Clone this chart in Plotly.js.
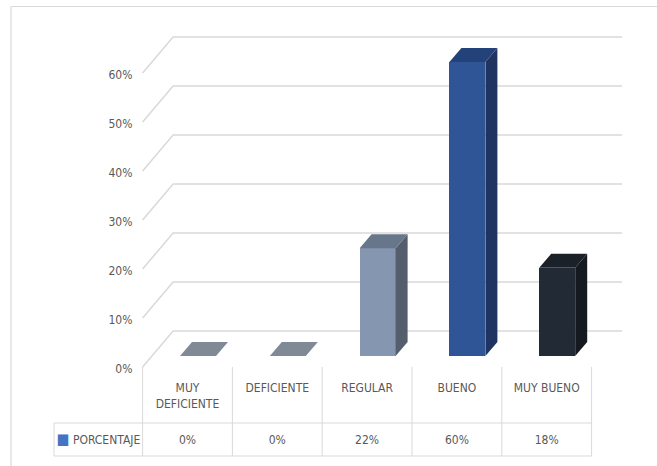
<!DOCTYPE html>
<html>
<head>
<meta charset="utf-8">
<script src="https://cdn.plot.ly/plotly-3.0.1.min.js"></script>
<style>html,body{margin:0;padding:0;background:#fff;}#chart{width:657px;height:466px;}</style>
</head>
<body>
<div id="chart"></div>
<script>
// ---- data ----
const categories = ['MUY DEFICIENTE', 'DEFICIENTE', 'REGULAR', 'BUENO', 'MUY BUENO'];
const tickLabels = ['MUY<br>DEFICIENTE', 'DEFICIENTE', 'REGULAR', 'BUENO', 'MUY BUENO'];
const porcentaje = [0, 0, 22, 60, 18];
const seriesName = 'PORCENTAJE';
const yTickLevels = [0, 10, 20, 30, 40, 50, 60];
const yTickLabels = ['0%', '10%', '20%', '30%', '40%', '50%', '60%'];

// ---- styles ----
const frontColors = ['#8a94a0', '#8a94a0', '#8496b0', '#2f5597', '#222a35'];
const topColors   = ['#808a96', '#808a96', '#67768a', '#24427a', '#1b2129'];
const sideColors  = ['#5d6670', '#5d6670', '#545e6d', '#1f3460', '#151a21'];
const legendColor = '#4472C4';
const textColor = '#595959';
const lineColor = '#d9d9d9';
const FONT = 'DejaVu Sans Condensed, Liberation Sans Narrow, sans-serif';

// ---- geometry (pixel scale helpers) ----
const W = 657, H = 466;
const M = {l: 20, r: 17, t: 20, b: 10};
const PXU = 89.8;   // px per category
const PXP = 4.9;    // px per percent
const X0 = 187.5;   // px of first column centre
const Y0 = 356;     // px of bar base
const plotH = H - M.t - M.b;
const toPaperY = py => (H - M.b - py) / plotH;
const toPaperX = px => (px - M.l) / (W - M.l - M.r);

const BAR_OFF = 10.5 / PXU, BAR_W = 36 / PXU, DX = 12 / PXU, DY = 14 / PXP;
const G_FRONT = -11 / PXP, G_BACK = 25 / PXP, G_DX = 30.5 / PXU;
const LABEL_COL = ((54 + 143) / 2 - X0) / PXU;
const TABLE_LEFT = (54 - X0) / PXU;

const xr = [(M.l - X0) / PXU, (W - M.r - X0) / PXU];
const yr = [(Y0 - 370) / PXP, (Y0 - M.t) / PXP];

const idx = categories.map((c, i) => i);
const traces = [];

// front faces
traces.push({
  type: 'bar', x: idx.map(i => i + BAR_OFF), y: porcentaje, base: 0,
  width: BAR_W, name: seriesName, hovertext: categories, hoverinfo: 'text+y', textposition: 'none',
  marker: {color: frontColors, line: {width: 0}}, showlegend: false
});
// side and top faces
porcentaje.forEach((v, i) => {
  const xl = i + BAR_OFF - BAR_W / 2, xrr = i + BAR_OFF + BAR_W / 2;
  if (v > 0) {
    traces.push({
      type: 'scatter', mode: 'lines', fill: 'toself', fillcolor: sideColors[i],
      line: {width: 0, color: sideColors[i]}, hoverinfo: 'skip', showlegend: false,
      x: [xrr, xrr + DX, xrr + DX, xrr, xrr], y: [0, DY, v + DY, v, 0]
    });
  }
  traces.push({
    type: 'scatter', mode: 'lines', fill: 'toself', fillcolor: topColors[i],
    line: {width: 0, color: topColors[i]}, hoverinfo: 'skip', showlegend: false,
    x: [xl, xl + DX, xrr + DX, xrr, xl], y: [v, v + DY, v + DY, v, v]
  });
});
// dummy trace for the data-table axis
traces.push({type: 'scatter', mode: 'none', x: [0], y: [0], xaxis: 'x2', yaxis: 'y', hoverinfo: 'skip', showlegend: false});

// shapes: back-wall gridlines, table, chart border
const shapes = [];
yTickLevels.forEach(L => {
  shapes.push({type: 'path', layer: 'below', xref: 'x', yref: 'y',
    path: `M${-0.5},${L + G_FRONT} L${-0.5 + G_DX},${L + G_BACK} L${4.5 + G_DX},${L + G_BACK}`,
    line: {color: lineColor, width: 1.5}});
});
for (let k = 0; k <= categories.length; k++) {
  shapes.push({type: 'line', xref: 'x', yref: 'paper', x0: k - 0.5, x1: k - 0.5,
    y0: toPaperY(367), y1: toPaperY(456), line: {color: lineColor, width: 1}});
}
[423, 456].forEach(py => shapes.push({type: 'line', xref: 'x', yref: 'paper',
  x0: TABLE_LEFT, x1: categories.length - 0.5, y0: toPaperY(py), y1: toPaperY(py),
  line: {color: lineColor, width: 1}}));
shapes.push({type: 'line', xref: 'x', yref: 'paper', x0: TABLE_LEFT, x1: TABLE_LEFT,
  y0: toPaperY(423), y1: toPaperY(456), line: {color: lineColor, width: 1}});
// chart border
shapes.push({type: 'line', xref: 'paper', yref: 'paper', x0: toPaperX(11), x1: toPaperX(W + 5),
  y0: toPaperY(6.5), y1: toPaperY(6.5), line: {color: lineColor, width: 1.2}});
shapes.push({type: 'line', xref: 'paper', yref: 'paper', x0: toPaperX(11), x1: toPaperX(11),
  y0: toPaperY(6.5), y1: toPaperY(H + 5), line: {color: lineColor, width: 1.2}});

const tickFont = {family: FONT, size: 12, color: textColor};

const layout = {
  width: W, height: H, margin: M,
  paper_bgcolor: '#ffffff', plot_bgcolor: 'rgba(0,0,0,0)',
  showlegend: false, bargap: 0,
  xaxis: {range: xr, domain: [0, 1], anchor: 'y', showgrid: false, zeroline: false, showline: false,
    tickmode: 'array', tickvals: idx, ticktext: tickLabels, ticks: '', tickfont: tickFont,
    ticklabelstandoff: 9, fixedrange: true},
  xaxis2: {range: xr, overlaying: 'x', anchor: 'free', position: toPaperY(431), side: 'bottom',
    showgrid: false, zeroline: false, showline: false, ticks: '', tickmode: 'array',
    tickvals: [LABEL_COL].concat(idx),
    ticktext: [`<span style="color:${legendColor};font-size:15px">■</span> ${seriesName}`].concat(porcentaje.map(v => v + '%')),
    tickfont: tickFont, fixedrange: true},
  yaxis: {range: yr, domain: [toPaperY(370), 1], anchor: 'free', position: toPaperX(142.5),
    showgrid: false, zeroline: false, showline: false, ticks: '', tickmode: 'array',
    tickvals: yTickLevels.map(L => L + G_FRONT - 0.3), ticktext: yTickLabels,
    tickfont: tickFont, ticklabelstandoff: 10, fixedrange: true},
  shapes: shapes
};

Plotly.newPlot('chart', traces, layout, {displayModeBar: false, staticPlot: true});
</script>
</body>
</html>
